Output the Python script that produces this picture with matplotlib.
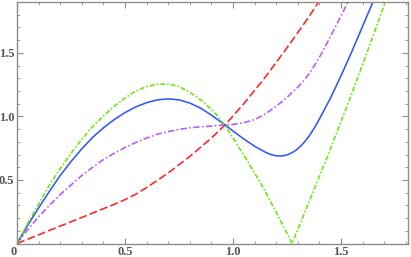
import numpy as np
import matplotlib
matplotlib.use("Agg")
import matplotlib.pyplot as plt
from matplotlib.ticker import MultipleLocator, FixedLocator

# values
green_x = [0, 0.05, 0.1, 0.15, 0.2, 0.25, 0.3, 0.35, 0.4, 0.45, 0.5, 0.55, 0.6, 0.65,
           0.7, 0.75, 0.8, 0.85, 0.9, 0.93, 0.963, 1.0, 1.05, 1.1, 1.15, 1.2, 1.25, 1.273,
           1.3, 1.35, 1.4, 1.45, 1.5, 1.55, 1.6, 1.65, 1.7, 1.72]
green_y = [0, 0.16, 0.31, 0.46, 0.59, 0.71, 0.82, 0.92, 1.005, 1.08, 1.145, 1.20, 1.235,
           1.253, 1.255, 1.235, 1.19, 1.13, 1.055, 1.0, 0.928, 0.83, 0.695, 0.555, 0.407,
           0.245, 0.08, 0.0, 0.11, 0.32, 0.53, 0.74, 0.96, 1.18, 1.41, 1.64, 1.88, 1.98]

blue_x = [0, 0.05, 0.1, 0.15, 0.2, 0.25, 0.3, 0.35, 0.4, 0.45, 0.5, 0.55, 0.6, 0.65,
          0.7, 0.75, 0.8, 0.85, 0.9, 0.963, 1.0, 1.05, 1.1, 1.15, 1.175, 1.2, 1.225,
          1.25, 1.275, 1.3, 1.325, 1.35, 1.375, 1.4, 1.45, 1.5, 1.55, 1.6, 1.65, 1.67]
blue_y = [0, 0.145, 0.28, 0.41, 0.535, 0.645, 0.745, 0.835, 0.91, 0.975, 1.03, 1.075,
          1.108, 1.13, 1.138, 1.13, 1.105, 1.065, 1.01, 0.933, 0.885, 0.822, 0.765,
          0.718, 0.70, 0.69, 0.688, 0.697, 0.716, 0.745, 0.787, 0.84, 0.905, 0.98,
          1.14, 1.32, 1.51, 1.71, 1.91, 1.99]

purple_x = [0, 0.05, 0.1, 0.15, 0.2, 0.25, 0.3, 0.35, 0.4, 0.45, 0.5, 0.55, 0.6, 0.65,
            0.7, 0.75, 0.8, 0.85, 0.9, 0.963, 1.0, 1.05, 1.1, 1.15, 1.2, 1.25, 1.3,
            1.325, 1.35, 1.375, 1.4, 1.45, 1.5, 1.532, 1.56]
purple_y = [0, 0.11, 0.21, 0.30, 0.385, 0.46, 0.535, 0.60, 0.66, 0.71, 0.755, 0.795,
            0.83, 0.86, 0.88, 0.898, 0.91, 0.918, 0.924, 0.933, 0.937, 0.95, 0.975,
            1.02, 1.08, 1.15, 1.23, 1.277, 1.33, 1.395, 1.465, 1.625, 1.79, 1.9, 1.99]

red_x = [0, 0.1, 0.2, 0.3, 0.4, 0.45, 0.5, 0.55, 0.6, 0.7, 0.8, 0.9, 0.963,
         1.05, 1.15, 1.25, 1.35, 1.4, 1.43]
red_y = [0, 0.068, 0.137, 0.205, 0.274, 0.308, 0.345, 0.388, 0.44, 0.555, 0.685, 0.83,
         0.933, 1.10, 1.31, 1.54, 1.78, 1.91, 1.99]

fig = plt.figure(figsize=(4.11, 2.57), dpi=100)
ax = fig.add_axes([17 / 411, 13.5 / 257, 391 / 411, 241.5 / 257])

lw = 1.15
ax.plot(red_x, red_y, color="#ff2222", lw=lw, linestyle=(0, (5, 2)))
ax.plot(purple_x, purple_y, color="#b855ff", lw=lw, linestyle=(0, (4, 1.5, 1, 1.5)))
ax.plot(blue_x, blue_y, color="#3355ff", lw=lw)
ax.plot(green_x, green_y, color="#66e600", lw=lw, linestyle=(0, (3, 1.3, 1, 1.3)))

ax.set_xlim(0, 1.81)
ax.set_ylim(0, 1.9)

ax.xaxis.set_major_locator(FixedLocator([0, 0.5, 1.0, 1.5]))
ax.yaxis.set_major_locator(FixedLocator([0.5, 1.0, 1.5]))
ax.xaxis.set_minor_locator(MultipleLocator(0.1))
ax.yaxis.set_minor_locator(MultipleLocator(0.1))
ax.set_xticklabels(["0", "0.5", "1.0", "1.5"])
ax.set_yticklabels(["0.5", "1.0", "1.5"])

gray = "#8c8c8c"
for sp in ax.spines.values():
    sp.set_color(gray)
    sp.set_linewidth(1.0)
ax.tick_params(which="both", direction="in", top=True, right=True, color=gray,
               labelsize=9, labelcolor="#555555", pad=2)
ax.tick_params(which="major", length=4, width=0.8)
ax.tick_params(which="minor", length=2, width=0.6)
for lab in ax.get_xticklabels() + ax.get_yticklabels():
    lab.set_fontfamily("Liberation Serif")
    lab.set_fontweight("bold")
# the "0" label sits a little left of its tick in the reference
ax.get_xticklabels()[0].set_horizontalalignment("right")

fig.savefig("out.png", dpi=100)
